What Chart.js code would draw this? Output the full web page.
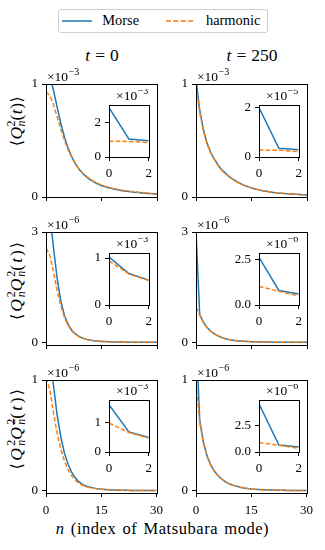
<!DOCTYPE html>
<html><head><meta charset="utf-8">
<script src="https://cdn.jsdelivr.net/npm/chart.js@4.4.1/dist/chart.umd.min.js"></script>
<style>
html,body{margin:0;padding:0;background:#fff;overflow:hidden;}
#wrap{position:relative;width:325px;height:550px;overflow:hidden;font-family:"Liberation Serif","Times New Roman",serif;color:#000;}
canvas{position:absolute;}
.tx{position:absolute;white-space:nowrap;line-height:1;}
.yl{position:absolute;white-space:nowrap;line-height:1;font-size:17.5px;transform:translate(-50%,-50%) rotate(-90deg);}
.ss{display:inline-block;vertical-align:-0.25em;font-size:0.68em;line-height:0.85;text-align:left;letter-spacing:0;}
.ss>span{display:block;}
.ang{font-family:"DejaVu Serif","DejaVu Sans",serif;font-size:0.9em;}
.ov{text-decoration:overline;}
</style></head><body><div id="wrap">
<div style="position:absolute;left:57.5px;top:9.3px;width:210px;height:24px;border:1px solid #cfcfcf;border-radius:3px;box-sizing:border-box;"></div>
<svg style="position:absolute;left:0;top:0" width="325" height="40"><line x1="62" y1="21" x2="92" y2="21" stroke="#1f77b4" stroke-width="1.5"/><line x1="166" y1="21" x2="194" y2="21" stroke="#ff7f0e" stroke-width="1.5" stroke-dasharray="5,2.4"/></svg>
<div class="tx" style="left:102.3px;top:13px;font-size:14.4px;">Morse</div>
<div class="tx" style="left:206px;top:13px;font-size:14.4px;">harmonic</div>
<div class="tx" style="left:102px;top:46.5px;font-size:17.5px;transform:translateX(-50%);"><i>t</i><span style="margin:0 0.28em">=</span>0</div>
<div class="tx" style="left:252px;top:46.5px;font-size:17.5px;transform:translateX(-50%);"><i>t</i><span style="margin:0 0.28em">=</span>250</div>
<div class="yl" style="left:16px;top:121px;letter-spacing:0.5px;"><span class="ang">⟨</span><i>Q</i><span class="ss"><span>2</span><span><i>n</i></span></span>(<i>t</i>)<span class="ang">⟩</span></div>
<div class="yl" style="left:16px;top:280px;letter-spacing:2px;"><span class="ang">⟨</span><i>Q</i><span class="ss"><span>2</span><span><i>n</i></span></span><i>Q</i><span class="ss"><span>2</span><span><i>n</i></span></span>(<i>t</i>)<span class="ang">⟩</span></div>
<div class="yl" style="left:16px;top:428px;letter-spacing:2.4px;"><span class="ang">⟨</span><i>Q</i><span class="ss"><span>2</span><span><i>n</i></span></span><i>Q</i><span class="ss"><span>2</span><span><i class="ov">n</i></span></span>(<i>t</i>)<span class="ang">⟩</span></div>
<div class="tx" style="left:162.5px;top:521px;font-size:16.5px;letter-spacing:0.55px;word-spacing:1.5px;transform:translateX(-50%);"><i>n</i> (index of Matsubara mode)</div>
</div>
<script>
// ---------------- data ----------------
const N = [0,1,2,3,4,5,6,7,8,9,10,11,12,13,14,15,16,17,18,19,20,21,22,23,24,25,26,27,28,29,30];
const INSET_N = [0,1,2];
const SERIES = ['Morse','harmonic'];

// row 1: <Q_n^2(t)>  (x 1e-3)
const Q2_T0_MORSE  = [1.116,1.069,0.948,0.798,0.653,0.529,0.430,0.352,0.291,0.243,0.206,0.176,0.151,0.131,0.115,0.102,0.090,0.081,0.073,0.066,0.060,0.054,0.050,0.046,0.042,0.039,0.036,0.034,0.031,0.029,0.027];
const Q2_T0_HARM   = [0.930,0.899,0.818,0.710,0.600,0.501,0.416,0.347,0.291,0.246,0.210,0.181,0.157,0.137,0.120,0.107,0.095,0.085,0.077,0.070,0.063,0.058,0.053,0.049,0.045,0.042,0.039,0.036,0.033,0.031,0.029];
const Q2_T250_MORSE= [1.040,0.770,0.595,0.475,0.393,0.332,0.281,0.240,0.209,0.181,0.157,0.137,0.118,0.104,0.092,0.081,0.071,0.063,0.056,0.050,0.045,0.040,0.036,0.033,0.030,0.028,0.026,0.024,0.022,0.020,0.018];
const Q2_T250_HARM = [0.980,0.750,0.585,0.468,0.388,0.330,0.275,0.235,0.205,0.178,0.155,0.135,0.117,0.103,0.091,0.080,0.071,0.063,0.056,0.050,0.044,0.040,0.036,0.033,0.030,0.028,0.026,0.024,0.022,0.020,0.018];
// row 2: <Q_n^2 Q_n^2(t)>  (x 1e-6)
const QQ_T0_MORSE  = [3.9,3.5,2.6,1.75,1.12,0.73,0.48,0.325,0.225,0.158,0.113,0.083,0.062,0.047,0.036,0.028,0.0225,0.018,0.0146,0.012,0.0099,0.0082,0.0069,0.0059,0.005,0.0043,0.0037,0.0032,0.0028,0.0025,0.0022];
const QQ_T0_HARM   = [2.56,2.377,1.929,1.421,0.990,0.673,0.457,0.3125,0.2173,0.154,0.111,0.0817,0.0611,0.0465,0.0359,0.0281,0.0222,0.0178,0.0144,0.0118,0.0098,0.0081,0.0068,0.0058,0.0049,0.0042,0.0036,0.0031,0.0027,0.0024,0.0021];
const QQ_T250_MORSE= [2.98,0.76,0.55,0.405,0.303,0.232,0.177,0.131,0.101,0.076,0.058,0.045,0.036,0.029,0.024,0.020,0.017,0.014,0.012,0.010,0.009,0.008,0.007,0.006,0.0055,0.005,0.0045,0.004,0.0037,0.0034,0.003];
const QQ_T250_HARM = [0.96,0.74,0.54,0.40,0.30,0.23,0.175,0.13,0.10,0.075,0.057,0.045,0.036,0.029,0.024,0.020,0.017,0.014,0.012,0.010,0.009,0.008,0.007,0.006,0.0055,0.005,0.0045,0.004,0.0037,0.0034,0.003];
// row 3: <Q_n^2 Q_nbar^2(t)>  (x 1e-6)
const QB_T0_MORSE  = [1.5,1.25,0.96,0.69,0.49,0.34,0.24,0.165,0.115,0.08,0.056,0.041,0.031,0.024,0.018,0.015,0.012,0.0095,0.0078,0.0065,0.0055,0.0047,0.004,0.0035,0.003,0.0027,0.0024,0.0021,0.0019,0.0017,0.0015];
const QB_T0_HARM   = [1.02,0.92,0.71,0.52,0.38,0.27,0.19,0.135,0.095,0.067,0.048,0.036,0.028,0.022,0.017,0.014,0.011,0.009,0.0075,0.0063,0.0053,0.0045,0.0039,0.0034,0.003,0.0026,0.0023,0.002,0.0018,0.0016,0.0015];
const QB_T250_MORSE= [1.45,0.64,0.44,0.315,0.233,0.177,0.136,0.106,0.081,0.064,0.051,0.041,0.032,0.026,0.021,0.017,0.014,0.012,0.010,0.0085,0.0072,0.0062,0.0053,0.0046,0.004,0.0035,0.0031,0.0027,0.0024,0.0021,0.0019];
const QB_T250_HARM = [0.97,0.62,0.43,0.31,0.23,0.175,0.135,0.105,0.08,0.063,0.05,0.04,0.032,0.026,0.021,0.017,0.014,0.012,0.010,0.0085,0.0072,0.0062,0.0053,0.0046,0.004,0.0035,0.0031,0.0027,0.0024,0.0021,0.0019];

// insets (n = 0,1,2)
const IN1_MORSE = [2.9,1.06,0.96],  IN1_HARM = [0.93,0.91,0.85];   // x1e-3
const IN2_MORSE = [2.0,0.35,0.29],  IN2_HARM = [0.28,0.27,0.22];   // x1e-5
const IN3_MORSE = [1.02,0.67,0.53], IN3_HARM = [0.94,0.66,0.52];   // x1e-3
const IN4_MORSE = [2.63,0.80,0.61], IN4_HARM = [1.02,0.76,0.50];   // x1e-6
const IN5_MORSE = [1.60,0.68,0.49], IN5_HARM = [0.98,0.66,0.47];   // x1e-3
const IN6_MORSE = [4.60,0.67,0.48], IN6_HARM = [0.90,0.64,0.36];   // x1e-6

// tick labels / axis ranges
const MAIN_X_TICKS = [0,15,30];
const MAIN_Y_TICKS = [[0,1],[0,3],[0,1]];
const MAIN_Y_RANGE = [[0,1],[-0.07,3],[-0.02,1]];
const MAIN_EXP = ['−3','−6','−6'];
const INSET_X_TICKS = [0,2];
const INSET_Y_TICKS = [[0,2],[0,2],[0,1],[0,2.5],[0,1],[0,2.5]];
const INSET_Y_LABELS = [['0','2'],['0','2'],['0','1'],['0.0','2.5'],['0','1'],['0.0','2.5']];
const INSET_Y_MAX = [3.05,2.1,1.107,2.87,1.76,4.97];
const INSET_EXP = ['−3','−5','−3','−6','−3','−6'];

const MAIN_SERIES = [[Q2_T0_MORSE,Q2_T0_HARM],[Q2_T250_MORSE,Q2_T250_HARM],[QQ_T0_MORSE,QQ_T0_HARM],[QQ_T250_MORSE,QQ_T250_HARM],[QB_T0_MORSE,QB_T0_HARM],[QB_T250_MORSE,QB_T250_HARM]];
const INSET_SERIES = [[IN1_MORSE,IN1_HARM],[IN2_MORSE,IN2_HARM],[IN3_MORSE,IN3_HARM],[IN4_MORSE,IN4_HARM],[IN5_MORSE,IN5_HARM],[IN6_MORSE,IN6_HARM]];

// ---------------- layout / style ----------------
const BLUE = '#1f77b4', ORANGE = '#ff7f0e';
const FONT = '"Liberation Serif","Times New Roman",serif';
const COL_L = [46,196], PW = 111, ROW_T = [84,232,380], PH = 113;
const IN_L = [109,259], IW = 40, IN_T = [105,253,400], IH = 52;
const wrap = document.getElementById('wrap');

const framePlugin = {id:'frame',
  beforeDraw(chart, args, opts){ if(!opts.fill) return; const {ctx, chartArea:a} = chart; ctx.save(); ctx.fillStyle='#fff'; ctx.fillRect(a.left,a.top,a.right-a.left,a.bottom-a.top); ctx.restore(); },
  afterDraw(chart){ const {ctx, chartArea:a} = chart; ctx.save(); ctx.strokeStyle='#000'; ctx.lineWidth=1; ctx.strokeRect(Math.round(a.left)+0.5, Math.round(a.top)+0.5, Math.round(a.right-a.left), Math.round(a.bottom-a.top)); ctx.restore(); }};
const offsetPlugin = {id:'offsetText',
  afterDraw(chart, args, o){ if(!o.exp) return; const {ctx, chartArea:a} = chart; ctx.save(); ctx.fillStyle='#000'; ctx.textBaseline='alphabetic'; ctx.textAlign='left';
    const big = o.size+'px '+FONT, small = (o.size*0.74)+'px '+FONT;
    ctx.font=big; const w1=ctx.measureText('×10').width; ctx.font=small; const w2=ctx.measureText(o.exp).width;
    const base=a.top-o.gap; const x = o.align==='right' ? a.right-w1-w2-1 : a.left+1;
    ctx.font=big; ctx.fillText('×10',x,base); ctx.font=small; ctx.fillText(o.exp,x+w1+0.5,base-o.size*0.42); ctx.restore(); }};
function makeCanvas(left, top, w, h, pad){ const c=document.createElement('canvas'); const cw=w+pad.l+pad.r, ch=h+pad.t+pad.b; c.width=cw; c.height=ch; c.style.left=(left-pad.l)+'px'; c.style.top=(top-pad.t)+'px'; c.style.width=cw+'px'; c.style.height=ch+'px'; wrap.appendChild(c); return c; }
function axisCommon(){ return {grid:{display:true, drawOnChartArea:false, drawTicks:true, tickLength:4, color:'#000', lineWidth:1}, border:{display:true, color:'#000', width:1}}; }
function makeChart(canvas, pad, xs, pair, xr, xt, xShow, xPad, yr, yt, ylabels, exp, expAlign, expGap, fill){
  return new Chart(canvas, {type:'line',
    data:{datasets:[
      {label:SERIES[0], data:xs.map((x,i)=>({x,y:pair[0][i]})), borderColor:BLUE, borderWidth:1.5, pointRadius:0, tension:0, order:2},
      {label:SERIES[1], data:xs.map((x,i)=>({x,y:pair[1][i]})), borderColor:ORANGE, borderWidth:1.5, borderDash:[4.5,2.2], pointRadius:0, tension:0, order:1}]},
    options:{responsive:false, animation:false, events:[], devicePixelRatio:1,
      layout:{padding:{left:0, top:pad.t, right:pad.r, bottom:0}},
      plugins:{legend:{display:false}, tooltip:{enabled:false}, frame:{fill}, offsetText:{exp, align:expAlign, size:13.5, gap:expGap}},
      scales:{
        x:Object.assign(axisCommon(), {type:'linear', min:xr[0], max:xr[1], afterBuildTicks:a=>{a.ticks=xt.map(v=>({value:v}));}, afterFit:s=>{s.height=pad.b;},
          ticks:{display:xShow, color:'#000', font:{family:FONT,size:13}, padding:xPad, maxRotation:0, autoSkip:false, callback:v=>String(v)}}),
        y:Object.assign(axisCommon(), {type:'linear', min:yr[0], max:yr[1], afterBuildTicks:a=>{a.ticks=yt.map(v=>({value:v}));}, afterFit:s=>{s.width=pad.l;},
          ticks:{color:'#000', font:{family:FONT,size:13}, padding:4, autoSkip:false, callback:(v,i)=>ylabels[i]}})}},
    plugins:[framePlugin, offsetPlugin]});
}
const MAIN_PAD={l:32,t:20,r:12,b:26}, IN_PAD={l:26,t:16,r:8,b:22};
for(let r=0;r<3;r++) for(let c=0;c<2;c++){ const k=r*2+c; const cv=makeCanvas(COL_L[c],ROW_T[r],PW,PH,MAIN_PAD);
  makeChart(cv,MAIN_PAD,N,MAIN_SERIES[k],[0,30],MAIN_X_TICKS,r===2,6,MAIN_Y_RANGE[r],MAIN_Y_TICKS[r],MAIN_Y_TICKS[r].map(String),MAIN_EXP[r],'left',3,false); }
for(let r=0;r<3;r++) for(let c=0;c<2;c++){ const k=r*2+c; const cv=makeCanvas(IN_L[c],IN_T[r],IW,IH,IN_PAD);
  makeChart(cv,IN_PAD,INSET_N,INSET_SERIES[k],[0,2],INSET_X_TICKS,true,5,[0,INSET_Y_MAX[k]],INSET_Y_TICKS[k],INSET_Y_LABELS[k],INSET_EXP[k],'right',5,true); }
</script>
</body></html>
